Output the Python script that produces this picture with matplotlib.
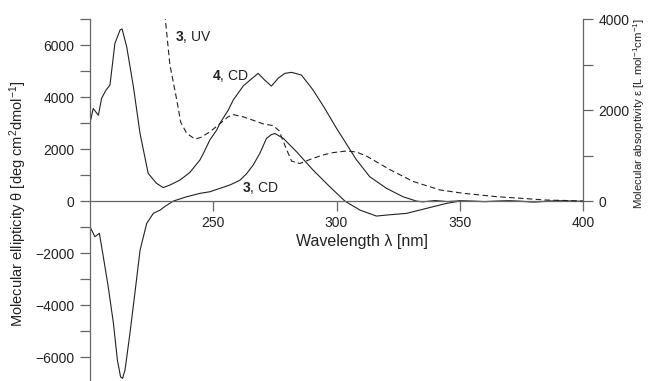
import matplotlib
matplotlib.use('Agg')
import matplotlib.pyplot as plt
from matplotlib.ticker import MultipleLocator

plt.rcParams['font.family'] = ['Liberation Sans', 'DejaVu Sans']
plt.rcParams['mathtext.fontset'] = 'custom'
plt.rcParams['mathtext.rm'] = 'Liberation Sans'
plt.rcParams['mathtext.bf'] = 'Liberation Sans:bold'
plt.rcParams['mathtext.it'] = 'Liberation Sans:italic'

# compound 4, CD (left axis)
cd4_wl = [200, 201.3, 203.4, 204.7, 206.5, 208.1, 210.1, 212.2, 213.0, 214.9, 217.6, 220.3,
          223.6, 227, 229.7, 232.4, 235.1, 236.5, 240.5, 244.6, 246, 248.6, 251.4, 252.7,
          256.1, 258.1, 262.2, 264.9, 268.2, 270.9, 273.6, 276.3, 279, 281.8, 285.8, 290.5,
          295, 300, 305, 308, 313.5, 320.3, 327, 332.4, 335, 340, 345, 350, 360, 370, 380,
          390, 400]
cd4 = [3000, 3560, 3300, 3950, 4270, 4460, 6060, 6580, 6620, 5930, 4400, 2600,
       1065, 680, 520, 615, 742, 808, 1100, 1580, 1835, 2346, 2730, 2990,
       3500, 3885, 4430, 4650, 4910, 4650, 4420, 4720, 4910, 4950, 4845, 4270,
       3600, 2800, 2050, 1600, 935, 488, 165, 0, -30, 20, -20, 10, -20, 0, -30,
       10, -20]

# compound 3, CD (left axis)
cd3_wl = [200, 202, 203.8, 205.4, 207.4, 209.5, 211.1, 212.4, 213.2, 214.2, 216.2, 218.2,
          220.3, 223, 225.7, 228.4, 230.5, 233.8, 239.2, 244.6, 248.6, 252.7, 256.8, 260.8,
          263.5, 266.2, 268.9, 271.6, 273.5, 275, 278.4, 283.8, 290.5, 297.3, 303.4, 309.5,
          316.2, 320.3, 328.4, 336.5, 344.6, 350, 360, 370, 380, 390, 400]
cd3 = [-990, -1370, -1240, -2140, -3300, -4700, -6110, -6760, -6820, -6500, -5090, -3550,
       -1890, -860, -470, -350, -200, 0, 165, 296, 358, 488, 620, 800,
       1050, 1385, 1835, 2411, 2550, 2600, 2411, 1896, 1192, 550, 0, -346,
       -577, -538, -473, -281, -90, 0, -20, 10, -30, 0, -10]

# compound 3, UV (right axis)
uv_wl = [230.0, 232.4, 235.1, 236.8, 239.2, 242.6, 245, 248.6, 252.7, 256, 258.1, 262.2,
         264.9, 270.3, 274.3, 276.7, 279.7, 281.8, 285.1, 290.5, 295, 298.6, 304, 308,
         312.2, 321.6, 331.1, 341.9, 351.4, 364.9, 375, 385.1, 395, 400]
uv = [4300, 3000, 2250, 1733, 1490, 1361, 1400, 1520, 1700, 1850, 1900, 1850,
      1800, 1696, 1658, 1546, 1138, 877, 825, 940, 1020, 1064, 1100, 1080,
      988, 692, 431, 245, 171, 97, 60, 22, 10, 0]

ink = '#222222'
axc = '#666666'

fig = plt.figure(figsize=(6.48, 3.81), dpi=100)
ax = fig.add_axes([90/648, 0.0, 493/648, 0.95])
ax2 = ax.twinx()

ax.plot(cd4_wl, cd4, color=ink, lw=0.8)
ax.plot(cd3_wl, cd3, color=ink, lw=0.8)
ax2.plot(uv_wl, uv, color=ink, lw=0.8, linestyle=(0, (5, 3)))

ax.set_xlim(200, 400)
ax.set_ylim(-6920, 7000)
ax2.set_ylim(-6920/7000*4000, 4000)

for a in (ax, ax2):
    a.spines['top'].set_visible(False)
    for s in a.spines.values():
        s.set_color(axc)
        s.set_linewidth(0.9)
ax.spines['right'].set_visible(False)
ax2.spines['left'].set_visible(False)
ax2.spines['bottom'].set_visible(False)
ax.spines['bottom'].set_position(('data', 0))
ax2.spines['right'].set_bounds(0, 4000)

ax.set_xticks([250, 300, 350, 400])
ax.yaxis.set_major_locator(MultipleLocator(2000))
ax.yaxis.set_minor_locator(MultipleLocator(1000))
ax2.set_yticks([0, 2000, 4000])
ax2.set_yticks([1000, 3000], minor=True)

ax.tick_params(axis='both', which='both', direction='out', length=7, width=0.9,
               color=axc, labelcolor=ink, labelsize=10, pad=4)
ax2.tick_params(axis='y', which='both', direction='out', length=7, width=0.9,
                color=axc, labelcolor=ink, labelsize=10, pad=4)

ax.set_ylabel('Molecular ellipticity θ [deg cm$^{2}$dmol$^{-1}$]', fontsize=10.5, color=ink)
ax.yaxis.set_label_coords(-0.124, 0.49)
ax.set_xlabel('Wavelength λ [nm]', fontsize=11.5, color=ink)
ax.xaxis.set_label_coords(0.552, 0.405)
ax2.set_ylabel('Molecular absorptivity ε [L mol$^{-1}$cm$^{-1}$]', fontsize=8.2, color=ink)
ax2.yaxis.set_label_coords(1.097, 0.74)

fig.text(175/648, 1-37/381, r'$\mathbf{3}$, UV', fontsize=10, color=ink, va='center')
fig.text(212/648, 1-76/381, r'$\mathbf{4}$, CD', fontsize=10, color=ink, va='center')
fig.text(242/648, 1-188/381, r'$\mathbf{3}$, CD', fontsize=10, color=ink, va='center')

fig.savefig('out.png', dpi=100)
